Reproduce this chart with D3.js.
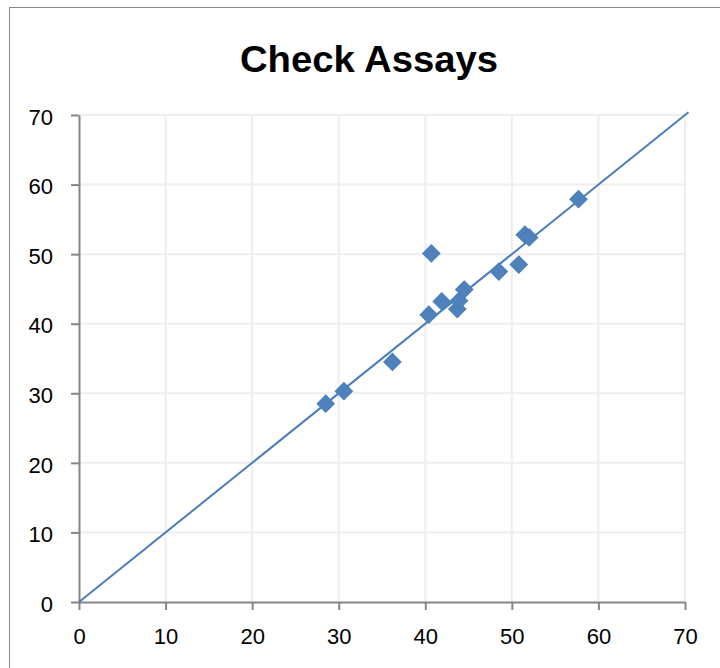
<!DOCTYPE html>
<html>
<head>
<meta charset="utf-8">
<script src="https://cdn.jsdelivr.net/npm/d3@7"></script>
<style>
  body { margin: 0; background: #fff; }
  svg { display: block; }
</style>
</head>
<body>
<div class="chart"></div>
<script>
// check assay pairs
const original = [28.5, 30.6, 36.2, 40.4, 41.9, 40.7, 43.7, 43.9, 44.5, 48.5, 50.8, 51.5, 52.0, 57.7];
const check    = [28.5, 30.3, 34.5, 41.3, 43.2, 50.1, 42.1, 43.3, 44.9, 47.5, 48.5, 52.8, 52.4, 57.9];
const ticks = [0, 10, 20, 30, 40, 50, 60, 70];
const lineEnds = [0, 70.4];

const data = original.map((d, i) => ({ x: d, y: check[i] }));

const width = 720;
const height = 668;
const margin = { left: 79, right: 35, top: 115, bottom: 66 };
const font = "'Liberation Sans', Arial, sans-serif";

const svg = d3.select(".chart")
  .append("svg")
  .attr("width", width)
  .attr("height", height);

// chart frame
svg.append("rect")
  .attr("x", 9.5)
  .attr("y", 7.5)
  .attr("width", 740)
  .attr("height", 700)
  .attr("fill", "#fff")
  .attr("stroke", "#868686")
  .attr("stroke-width", 1);

const x = d3.scaleLinear().domain([0, 70]).range([margin.left, width - margin.right]);
const y = d3.scaleLinear().domain([0, 70]).range([height - margin.bottom, margin.top]);

svg.append("text")
  .attr("x", 369)
  .attr("y", 72)
  .attr("text-anchor", "middle")
  .attr("font-family", font)
  .attr("font-size", 37)
  .attr("font-weight", "bold")
  .attr("textLength", 258)
  .attr("lengthAdjust", "spacingAndGlyphs")
  .text("Check Assays");

// gridlines
svg.append("g")
  .selectAll("line.vg")
  .data(ticks.slice(1))
  .enter()
  .append("line")
  .attr("x1", (d) => x(d))
  .attr("x2", (d) => x(d))
  .attr("y1", y(0))
  .attr("y2", y(70))
  .attr("stroke", "#eeeeee")
  .attr("stroke-width", 2);

svg.append("g")
  .selectAll("line.hg")
  .data(ticks.slice(1))
  .enter()
  .append("line")
  .attr("x1", x(0))
  .attr("x2", x(70))
  .attr("y1", (d) => y(d))
  .attr("y2", (d) => y(d))
  .attr("stroke", "#eeeeee")
  .attr("stroke-width", 2);

// axes
const xAxis = svg.append("g")
  .attr("transform", `translate(0,${y(0)})`)
  .call(d3.axisBottom(x).tickValues(ticks).tickSize(8).tickPadding(18).tickSizeOuter(0));

const yAxis = svg.append("g")
  .attr("transform", `translate(${x(0)},0)`)
  .call(d3.axisLeft(y).tickValues(ticks).tickSize(8).tickPadding(18).tickSizeOuter(0));

[xAxis, yAxis].forEach((g) => {
  g.select(".domain").attr("stroke", "#868686").attr("stroke-width", 2);
  g.selectAll(".tick line").attr("stroke", "#868686").attr("stroke-width", 2);
  g.selectAll(".tick text")
    .attr("fill", "#000")
    .attr("font-family", font)
    .attr("font-size", 22);
});
yAxis.selectAll(".tick text").attr("dy", "0.42em");

// 1:1 line
svg.append("line")
  .attr("x1", x(lineEnds[0]))
  .attr("y1", y(lineEnds[0]))
  .attr("x2", x(lineEnds[1]))
  .attr("y2", y(lineEnds[1]))
  .attr("stroke", "#4a7ebb")
  .attr("stroke-width", 2);

// diamonds
const diamond = d3.symbol().type(d3.symbolSquare).size(150);
svg.append("g")
  .selectAll("path")
  .data(data)
  .enter()
  .append("path")
  .attr("d", diamond)
  .attr("transform", (d) => `translate(${x(d.x)},${y(d.y)}) rotate(45)`)
  .attr("fill", "#4f81bd")
  .attr("stroke", "#4a7ebb")
  .attr("stroke-width", 1);
</script>
</body>
</html>
